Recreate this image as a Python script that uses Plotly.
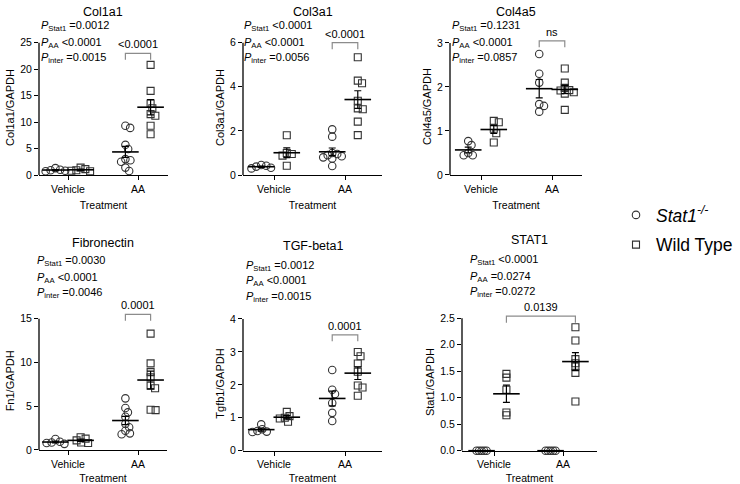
import numpy as np
import plotly.graph_objects as go

W, H = 740, 484
FONT = "Liberation Sans, Arial, sans-serif"

GROUPS = ["Vehicle", "AA"]

# Stat1-/- (circles) and wild type (squares), per treatment
COL1A1_KO_VEH = [1.3, 1.0, 0.9, 0.8, 0.7]
COL1A1_WT_VEH = [1.4, 1.1, 0.9, 0.8, 0.7]
COL1A1_KO_AA = [9.3, 8.9, 5.7, 4.9, 3.0, 2.8, 2.5, 1.4, 0.75]
COL1A1_WT_AA = [20.8, 15.9, 13.5, 12.6, 11.5, 11.2, 9.3, 7.7]

COL3A1_KO_VEH = [0.45, 0.42, 0.38, 0.33, 0.3]
COL3A1_WT_VEH = [1.8, 1.0, 0.95, 0.88, 0.42]
COL3A1_KO_AA = [2.07, 1.74, 1.0, 0.95, 0.9, 0.85, 0.8, 0.75, 0.41]
COL3A1_WT_AA = [5.34, 4.28, 4.16, 3.37, 3.02, 2.98, 2.42, 1.81]

COL4A5_KO_VEH = [0.77, 0.68, 0.5, 0.45, 0.45]
COL4A5_WT_VEH = [1.23, 1.2, 1.05, 0.95, 0.74]
COL4A5_KO_AA = [2.75, 2.3, 2.1, 1.61, 1.57, 1.44]
COL4A5_WT_AA = [2.42, 2.1, 1.98, 1.93, 1.92, 1.88, 1.85, 1.48]

FN1_KO_VEH = [1.25, 0.95, 0.85, 0.8, 0.7]
FN1_WT_VEH = [1.45, 1.3, 1.1, 0.85, 0.8]
FN1_KO_AA = [5.9, 4.8, 4.3, 3.8, 3.0, 2.6, 2.2, 1.9, 1.8]
FN1_WT_AA = [13.3, 9.9, 8.9, 8.3, 7.35, 7.05, 4.6, 4.55]

TGFB1_KO_VEH = [0.8, 0.65, 0.6, 0.58, 0.57]
TGFB1_WT_VEH = [1.18, 1.05, 1.0, 0.98, 0.88]
TGFB1_KO_AA = [2.45, 1.85, 1.72, 1.45, 1.15, 0.9]
TGFB1_WT_AA = [3.0, 2.87, 2.65, 2.4, 1.98, 1.92, 1.67]

STAT1_KO_VEH = [0, 0, 0, 0, 0]
STAT1_WT_VEH = [1.45, 1.38, 1.15, 0.72, 0.67]
STAT1_KO_AA = [0, 0, 0, 0, 0]
STAT1_WT_AA = [2.33, 2.08, 1.73, 1.65, 1.59, 1.47, 0.93]

PANELS = [
    dict(title="Col1a1", ytitle="Col1a1/GAPDH", ticks=[0, 5, 10, 15, 20, 25], fmt="{:g}",
         ko=(COL1A1_KO_VEH, COL1A1_KO_AA), wt=(COL1A1_WT_VEH, COL1A1_WT_AA),
         p=["=0.0012", "&lt;0.0001", "=0.0015"], bracket=(("AA", "ko"), ("AA", "wt"), 23, "&lt;0.0001")),
    dict(title="Col3a1", ytitle="Col3a1/GAPDH", ticks=[0, 2, 4, 6], fmt="{:g}",
         ko=(COL3A1_KO_VEH, COL3A1_KO_AA), wt=(COL3A1_WT_VEH, COL3A1_WT_AA),
         p=["&lt;0.0001", "&lt;0.0001", "=0.0056"], bracket=(("AA", "ko"), ("AA", "wt"), 6.0, "&lt;0.0001")),
    dict(title="Col4a5", ytitle="Col4a5/GAPDH", ticks=[0, 1, 2, 3], fmt="{:g}",
         ko=(COL4A5_KO_VEH, COL4A5_KO_AA), wt=(COL4A5_WT_VEH, COL4A5_WT_AA),
         p=["=0.1231", "&lt;0.0001", "=0.0857"], bracket=(("AA", "ko"), ("AA", "wt"), 3.05, "ns")),
    dict(title="Fibronectin", ytitle="Fn1/GAPDH", ticks=[0, 5, 10, 15], fmt="{:g}",
         ko=(FN1_KO_VEH, FN1_KO_AA), wt=(FN1_WT_VEH, FN1_WT_AA),
         p=["=0.0030", "&lt;0.0001", "=0.0046"], bracket=(("AA", "ko"), ("AA", "wt"), 15.5, "0.0001")),
    dict(title="TGF-beta1", ytitle="Tgfb1/GAPDH", ticks=[0, 1, 2, 3, 4], fmt="{:g}",
         ko=(TGFB1_KO_VEH, TGFB1_KO_AA), wt=(TGFB1_WT_VEH, TGFB1_WT_AA),
         p=["=0.0012", "&lt;0.0001", "=0.0015"], bracket=(("AA", "ko"), ("AA", "wt"), 3.52, "0.0001")),
    dict(title="STAT1", ytitle="Stat1/GAPDH", ticks=[0, 0.5, 1.0, 1.5, 2.0, 2.5], fmt="{:.1f}",
         ko=(STAT1_KO_VEH, STAT1_KO_AA), wt=(STAT1_WT_VEH, STAT1_WT_AA),
         p=["&lt;0.0001", "=0.0274", "=0.0272"], bracket=(("Vehicle", "wt"), ("AA", "wt"), 2.54, "0.0139")),
]

# pixel layout of each panel (spine, axis end, tick px, zero px, top-tick px, title / p-text spots, dot spacing)
GEOM = [
    dict(spine=39, end=168, t0=68, t1=138, y0=175, ytop=42.7, title_y=12, px=39, py=[26, 43, 58], d=5),
    dict(spine=243, end=382, t0=274, t1=345, y0=175, ytop=42.7, title_y=12, px=242, py=[26, 43, 58], d=5),
    dict(spine=450, end=582, t0=481, t1=552, y0=175, ytop=43, title_y=12, px=450, py=[26, 43, 58], d=5),
    dict(spine=39, end=167, t0=68, t1=138, y0=450, ytop=318.7, title_y=243, px=35, py=[261, 278, 293], d=5),
    dict(spine=243, end=382, t0=274, t1=345, y0=450.7, ytop=319, title_y=246, px=244, py=[266, 281, 297], d=5),
    dict(spine=462, end=597, t0=494, t1=563, y0=450.7, ytop=318.3, title_y=240, px=468, py=[260, 277, 292], d=2.5),
]

OFFSET = {"ko": -0.18, "wt": 0.18}
SYMBOL = {"ko": "circle-open", "wt": "square-open"}
SIZE = {"ko": 7.5, "wt": 7}
NAMES = {"ko": "<i>Stat1<sup>-/-</sup></i>", "wt": "Wild Type"}


def fx(p):
    return p / W


def fy(p):
    return 1 - p / H


def swarm(values, ppu_y, ppx, d):
    vals = np.asarray(values, float)
    cands = sorted(np.arange(-30, 30.25, 0.25), key=lambda c: (abs(c), -c))
    placed = []
    offs = np.zeros(len(vals))
    for i in np.argsort(-vals, kind="stable"):
        yp = vals[i] * ppu_y
        for c in cands:
            if all((c - a) ** 2 + (yp - b) ** 2 >= d * d for a, b in placed):
                break
        placed.append((c, yp))
        offs[i] = c / ppx
    return offs


fig = go.Figure()
annotations = []
shapes = []

for n, (spec, g) in enumerate(zip(PANELS, GEOM), start=1):
    sfx = "" if n == 1 else str(n)
    xa, ya = f"x{sfx}", f"y{sfx}"
    ppx = g["t1"] - g["t0"]
    ppu = (g["y0"] - g["ytop"]) / spec["ticks"][-1]
    bx0, bx1, by, blabel = spec["bracket"]
    top = max(spec["ticks"][-1], by) * 1.02
    xr = [(g["spine"] - g["t0"]) / ppx, (g["end"] - g["t0"]) / ppx]

    for key in ["ko", "wt"]:
        xs, ys = [], []
        for gi, vals in enumerate(spec[key]):
            offs = swarm(vals, ppu, ppx, g["d"])
            xs += list(gi + OFFSET[key] + offs)
            ys += list(vals)
        fig.add_trace(go.Scatter(
            x=xs, y=ys, mode="markers", xaxis=xa, yaxis=ya, cliponaxis=False,
            name=NAMES[key], showlegend=(n == 1), legendgroup=key,
            marker=dict(symbol=SYMBOL[key], size=SIZE[key], color="#333333", line=dict(width=1.1)),
            hoverinfo="skip",
        ))
    for key in ["ko", "wt"]:
        means = [np.mean(v) for v in spec[key]]
        sems = [np.std(v, ddof=1) / np.sqrt(len(v)) for v in spec[key]]
        fig.add_trace(go.Scatter(
            x=[gi + OFFSET[key] for gi in range(2)], y=means, mode="markers",
            xaxis=xa, yaxis=ya, cliponaxis=False, showlegend=False,
            marker=dict(symbol="line-ew", size=19, color="black", line=dict(width=1.6, color="black")),
            error_y=dict(type="data", array=sems, visible=True, color="black", thickness=1.2, width=3.5),
            hoverinfo="skip",
        ))

    # significance bracket
    xb0 = GROUPS.index(bx0[0]) + OFFSET[bx0[1]]
    xb1 = GROUPS.index(bx1[0]) + OFFSET[bx1[1]]
    arm = 6.5 / ppu
    fig.add_trace(go.Scatter(
        x=[xb0, xb0, xb1, xb1], y=[by - arm, by, by, by - arm], mode="lines",
        xaxis=xa, yaxis=ya, showlegend=False, line=dict(color="#8c8c8c", width=1.2), hoverinfo="skip",
    ))
    annotations.append(dict(x=(xb0 + xb1) / 2, y=by, xref=xa, yref=ya, text=blabel, showarrow=False,
                            yanchor="bottom", yshift=1, font=dict(size=11, color="black")))

    # y spine from 0 to the top tick
    shapes.append(dict(type="line", xref=f"{xa} domain", x0=0, x1=0, yref=ya, y0=0, y1=spec["ticks"][-1],
                       line=dict(color="black", width=1.3)))

    annotations.append(dict(x=fx((g["spine"] + g["end"]) / 2), y=fy(g["title_y"]), xref="paper", yref="paper",
                            text=spec["title"], showarrow=False, xanchor="center", yanchor="middle",
                            font=dict(size=12.5, color="black")))
    for sub, val, yy in zip(["Stat1", "AA", "inter"], spec["p"], g["py"]):
        annotations.append(dict(x=fx(g["px"]), y=fy(yy), xref="paper", yref="paper",
                                text=f"<i>P</i><sub>{sub}</sub> {val}", showarrow=False,
                                xanchor="left", yanchor="middle", font=dict(size=11, color="black")))

    top_px = g["y0"] - ppu * top
    fig.layout[f"xaxis{sfx}"] = dict(
        domain=[fx(g["spine"]), fx(g["end"])], range=xr, anchor=ya, automargin=False,
        tickvals=[0, 1], ticktext=GROUPS, ticks="outside", ticklen=4, tickwidth=1.2, tickcolor="black",
        showline=True, linecolor="black", linewidth=1.3, showgrid=False, zeroline=False,
        tickfont=dict(size=10.5, color="black"),
        title=dict(text="Treatment", font=dict(size=10.5, color="black"), standoff=7),
    )
    fig.layout[f"yaxis{sfx}"] = dict(
        domain=[fy(g["y0"]), fy(top_px)], range=[0, top], anchor=xa, automargin=False,
        tickvals=spec["ticks"], ticktext=[spec["fmt"].format(t) for t in spec["ticks"]],
        ticks="outside", ticklen=4, tickwidth=1.2, tickcolor="black",
        showline=False, showgrid=False, zeroline=False,
        tickfont=dict(size=10.5, color="black"),
        title=dict(text=spec["ytitle"], font=dict(size=11, color="black"), standoff=3),
    )

fig.update_layout(
    width=W, height=H,
    margin=dict(l=0, r=0, t=0, b=0, autoexpand=False),
    paper_bgcolor="white", plot_bgcolor="white",
    font=dict(family=FONT, color="black"),
    annotations=annotations, shapes=shapes,
    legend=dict(x=fx(616), y=fy(197), xanchor="left", yanchor="top", font=dict(size=17.5, color="black"),
                itemwidth=30, traceorder="grouped", tracegroupgap=4, bgcolor="rgba(0,0,0,0)"),
)

# drop the page's default body margin so the figure sits at the window's top-left corner
fig.write_html("out.html", config={"displayModeBar": False},
               post_script="document.body.style.margin = '0';")
